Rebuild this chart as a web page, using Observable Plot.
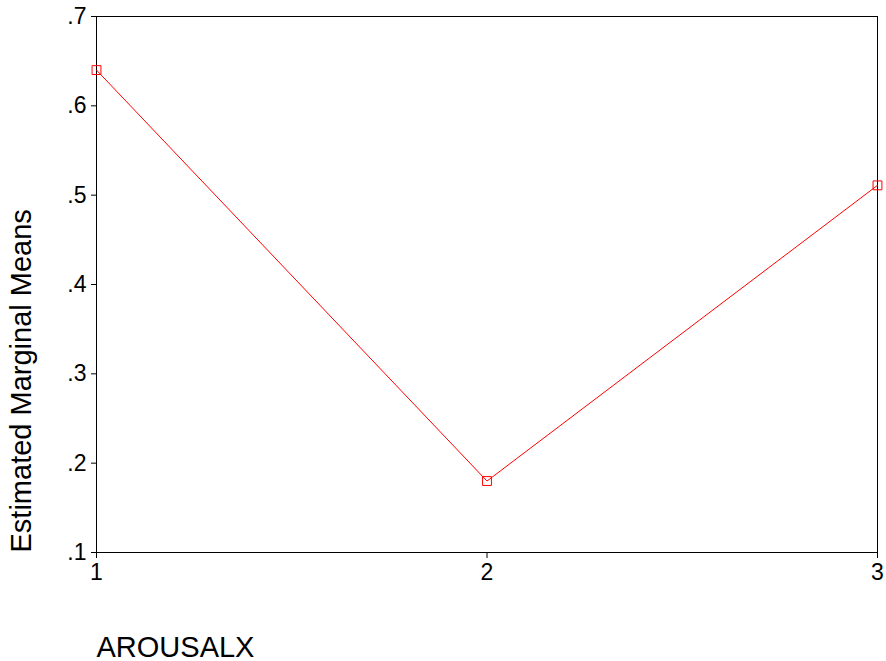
<!DOCTYPE html>
<html>
<head>
<meta charset="utf-8">
<script src="https://cdn.jsdelivr.net/npm/d3@7"></script>
<script src="https://cdn.jsdelivr.net/npm/@observablehq/plot@0.6"></script>
<style>
  html, body { margin: 0; padding: 0; background: #fff; }
  svg { display: block; }
</style>
</head>
<body>
<div id="chart"></div>
<script>
const arousal = [1, 2, 3];
const means = [0.64, 0.18, 0.511];
const yTicks = [0.1, 0.2, 0.3, 0.4, 0.5, 0.6, 0.7];
const xTicks = [1, 2, 3];
const xTitle = "AROUSALX";
const yTitle = "Estimated Marginal Means";

const data = arousal.map((a, i) => ({a, m: means[i]}));
const fmt = v => d3.format(".1f")(v).replace(/^0/, "");

const chart = Plot.plot({
  width: 886,
  height: 661,
  marginLeft: 96,
  marginRight: 9,
  marginTop: 16,
  marginBottom: 109,
  style: {fontFamily: "'Liberation Sans', Arial, sans-serif", background: "#fff", color: "#000"},
  x: {domain: [1, 3]},
  y: {domain: [0.1, 0.7]},
  marks: [
    Plot.frame({stroke: "#000", strokeOpacity: 1}),
    Plot.axisY({ticks: yTicks, tickFormat: fmt, tickSize: 5, tickPadding: 5, fontSize: 23, label: null, stroke: "#000", strokeOpacity: 1, color: "#000"}),
    Plot.axisX({ticks: xTicks, tickFormat: d3.format("d"), tickSize: 6, tickPadding: 5, fontSize: 23, label: null, stroke: "#000", strokeOpacity: 1, color: "#000"}),
    Plot.line(data, {x: "a", y: "m", stroke: "#ff0000", strokeWidth: 1}),
    Plot.dot(data, {x: "a", y: "m", symbol: "square", r: 5, stroke: "#ff0000", strokeWidth: 1, fill: "none"}),
    Plot.text([yTitle], {frameAnchor: "bottom-left", rotate: -90, textAnchor: "start", dx: -66, fontSize: 29, fill: "#000"}),
    Plot.text([xTitle], {frameAnchor: "bottom-left", textAnchor: "start", lineAnchor: "bottom", dy: 104, fontSize: 29, fill: "#000"})
  ]
});
document.getElementById("chart").append(chart);
</script>
</body>
</html>
